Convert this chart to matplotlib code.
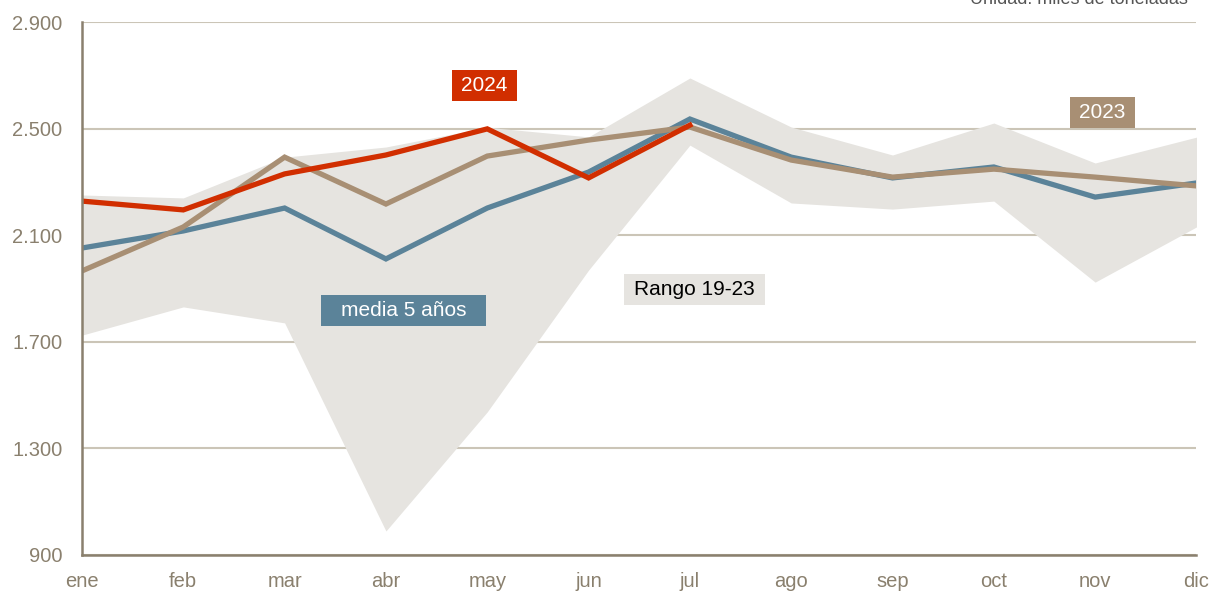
import matplotlib.pyplot as plt
import matplotlib.ticker as mticker
from matplotlib.patches import Rectangle

plt.rcParams['font.family'] = ['Liberation Sans', 'DejaVu Sans']

months = ['ene', 'feb', 'mar', 'abr', 'may', 'jun', 'jul', 'ago', 'sep', 'oct', 'nov', 'dic']

# miles de toneladas
y2024 = [2228, 2195, 2330, 2401, 2499, 2315, 2513]
media5 = [2052, 2116, 2202, 2011, 2202, 2337, 2536, 2393, 2315, 2356, 2243, 2296]
y2023 = [1966, 2131, 2393, 2217, 2397, 2457, 2506, 2382, 2318, 2348, 2318, 2285]
rango_max = [2251, 2240, 2393, 2431, 2505, 2469, 2690, 2506, 2401, 2521, 2371, 2468]
rango_min = [1725, 1831, 1771, 990, 1437, 1969, 2438, 2221, 2198, 2228, 1924, 2131]

RED = '#D12E00'
BLUE = '#5B8399'
BROWN = '#A88F74'
BAND = '#E6E4E0'
AXCOL = '#8A806E'
GRID = '#CBC5B7'

fig = plt.figure(figsize=(12.11, 5.92), dpi=100)
ax = fig.add_axes([0.0677, 0.0625, 0.9203, 0.9003])

x = list(range(len(months)))
ax.fill_between(x, rango_min, rango_max, color=BAND, lw=0, zorder=2)
ax.plot(x, media5, color=BLUE, lw=3.8, zorder=3, solid_joinstyle='miter')
ax.plot(x, y2023, color=BROWN, lw=3.8, zorder=4, solid_joinstyle='miter')
ax.plot(x[:len(y2024)], y2024, color=RED, lw=3.8, zorder=5, solid_joinstyle='miter')

ax.set_xlim(0, 11)
ax.set_ylim(900, 2900)
ax.set_yticks([900, 1300, 1700, 2100, 2500, 2900])
ax.yaxis.set_major_formatter(mticker.FuncFormatter(lambda v, p: f'{int(v):,}'.replace(',', '.')))
ax.set_xticks(x)
ax.set_xticklabels(months)
ax.tick_params(length=0, colors=AXCOL, labelsize=14.5)
ax.tick_params(axis='x', pad=12)
ax.tick_params(axis='y', pad=14)

ax.grid(axis='y', color=GRID, lw=1.5, zorder=1)
ax.set_axisbelow(True)
for s in ['top', 'right']:
    ax.spines[s].set_visible(False)
for s in ['left', 'bottom']:
    ax.spines[s].set_color(AXCOL)
    ax.spines[s].set_linewidth(1.8)
    ax.spines[s].set_zorder(6)

labels = []


def label(xp, yp, txt, bg, fg, hpad):
    t = ax.text(xp, yp, txt, color=fg, fontsize=15, ha='center', va='center', zorder=8)
    labels.append((t, xp, yp, bg, hpad))


label(3.974, 2662, '2024', RED, 'white', 9)
label(10.07, 2562, '2023', BROWN, 'white', 9.5)
label(3.175, 1817, 'media 5 años', BLUE, 'white', 20)
label(6.048, 1898, 'Rango 19-23', BAND, 'black', 10)

# boxes sized from the rendered text
fig.canvas.draw()
r = fig.canvas.get_renderer()
for t, xp, yp, bg, hpad in labels:
    bb = t.get_window_extent(r)
    cx, cy = ax.transData.transform((xp, yp))
    w = bb.width + 2 * hpad
    h = 31
    ax.add_patch(Rectangle((cx - w / 2, cy - h / 2), w, h, transform=None,
                           fc=bg, ec='none', zorder=7))

fig.text(0.981, 1.0, 'Unidad: miles de toneladas', ha='right', va='center',
         fontsize=13, color='#555555')

fig.savefig('out.png', dpi=100)
